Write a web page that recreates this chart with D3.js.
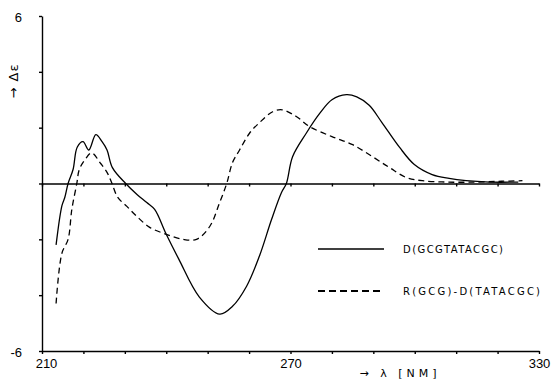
<!DOCTYPE html>
<html>
<head>
<meta charset="utf-8">
<script src="https://cdn.jsdelivr.net/npm/d3@7"></script>
<style>
  body { margin: 0; background: #fff; }
  svg { font-family: "DejaVu Sans", sans-serif; }
  .axis path, .axis line { stroke: #000; stroke-width: 1.4; }
  .axis text { font-size: 13px; fill: #000; }
</style>
</head>
<body>
<div id="chart"></div>
<script>
// D(GCGTATACGC) - solid
const dnaNm = [213.4, 214.8, 215.5, 216.3, 217.5, 218.5, 219.9, 221.3, 223, 224.5, 225.7, 227, 230.2,
  233, 235.3, 237.2, 240, 243, 248, 252.9, 256, 259.4, 262.5, 265.4, 267.8, 269, 270.5, 273.8, 277,
  280, 283.5, 286, 289, 292, 296.3, 299.9, 304.2, 308.3, 312.4, 318, 325];
const dnaDe = [-2.2, -0.8, -0.5, 0, 0.5, 1.3, 1.5, 1.2, 1.75, 1.5, 1.2, 0.57, 0,
  -0.4, -0.68, -0.93, -1.82, -2.7, -4.07, -4.68, -4.4, -3.68, -2.6, -1.3, -0.33, 0, 0.96, 1.8, 2.5,
  3.0, 3.18, 3.1, 2.8, 2.2, 1.3, 0.68, 0.32, 0.18, 0.1, 0.05, 0.05];

// R(GCG)-D(TATACGC) - dashed
const hybNm = [213.4, 214.8, 216.3, 217.2, 218.4, 219, 220.4, 222, 224, 225.7, 226.9, 228.3, 230.5,
  232.9, 236, 240, 244, 247.3, 250.5, 252.9, 254.6, 256, 257.7, 260.1, 262.5, 265.7, 268, 271.4,
  274.6, 280, 285, 289.8, 293.9, 298, 301.8, 308, 315, 321, 326];
const hybDe = [-4.3, -2.5, -2.0, -0.93, 0, 0.5, 0.86, 1.1, 0.75, 0.4, 0, -0.5, -0.82,
  -1.18, -1.57, -1.82, -2.0, -2.0, -1.54, -0.68, 0, 0.75, 1.2, 1.8, 2.18, 2.57, 2.64, 2.4,
  2.04, 1.68, 1.39, 0.96, 0.57, 0.21, 0.1, 0.05, 0.05, 0.08, 0.1];

const xTicks = [210, 220, 230, 240, 250, 260, 270, 280, 290, 300, 310, 320, 330];
const xLabels = [210, 270, 330];
const yTicks = [-6, -4, -2, 0, 2, 4, 6];
const yLabels = [-6, 6];
const seriesNames = ["D(GCGTATACGC)", "R(GCG)-D(TATACGC)"];

const width = 551, height = 384;

const svg = d3.select("#chart").append("svg")
  .attr("width", width)
  .attr("height", height);

const x = d3.scaleLinear().domain([210, 330]).range([42, 539]);
const y = d3.scaleLinear().domain([-6, 6]).range([351, 16]);

// y axis
svg.append("g")
  .attr("class", "axis")
  .attr("transform", "translate(42,0)")
  .call(d3.axisLeft(y).tickValues(yTicks).tickSize(3).tickSizeOuter(0).tickPadding(17)
    .tickFormat(d => yLabels.includes(d) ? d : ""))
  .call(g => g.selectAll("text").attr("dy", "0.4em"));

// x axis
svg.append("g")
  .attr("class", "axis")
  .attr("transform", "translate(0,351)")
  .call(d3.axisBottom(x).tickValues(xTicks).tickSize(3).tickSizeOuter(0).tickPadding(5)
    .tickFormat(d => xLabels.includes(d) ? d : ""))
  .call(g => g.selectAll("text").filter(d => d === 210).attr("dx", 4));

// zero line
svg.append("g")
  .attr("class", "axis")
  .attr("transform", "translate(0," + y(0) + ")")
  .call(d3.axisBottom(x).tickValues(xTicks).tickSize(3).tickSizeOuter(0).tickFormat(""));

// axis titles
svg.append("text")
  .attr("transform", "translate(18,81) rotate(-90)")
  .attr("text-anchor", "middle")
  .attr("font-size", 13)
  .attr("letter-spacing", 1)
  .text("\u2192 \u0394\u03b5");

svg.append("text")
  .attr("x", 400)
  .attr("y", 377)
  .attr("text-anchor", "middle")
  .attr("font-size", 11)
  .attr("letter-spacing", 4)
  .text("\u2192 \u03bb [NM]");

// curves
const line = d3.line()
  .x(d => x(d[0]))
  .y(d => y(d[1]))
  .curve(d3.curveCatmullRom);

svg.append("path")
  .datum(d3.zip(dnaNm, dnaDe))
  .attr("d", line)
  .attr("fill", "none")
  .attr("stroke", "#000")
  .attr("stroke-width", 1.3);

svg.append("path")
  .datum(d3.zip(hybNm, hybDe))
  .attr("d", line)
  .attr("fill", "none")
  .attr("stroke", "#000")
  .attr("stroke-width", 1.3)
  .attr("stroke-dasharray", "6,4");

// legend
const legend = svg.append("g");
const legendY = [249, 291];
const dashes = [null, "7,4"];
const textLen = [100, 137];
seriesNames.forEach((name, i) => {
  legend.append("line")
    .attr("x1", 318).attr("x2", 384)
    .attr("y1", legendY[i]).attr("y2", legendY[i])
    .attr("stroke", "#000")
    .attr("stroke-width", i ? 2 : 1.4)
    .attr("stroke-dasharray", dashes[i]);
  legend.append("text")
    .attr("x", 403)
    .attr("y", legendY[i] + 4)
    .attr("font-size", 10)
    .attr("textLength", textLen[i])
    .attr("lengthAdjust", "spacing")
    .text(name);
});
</script>
</body>
</html>
